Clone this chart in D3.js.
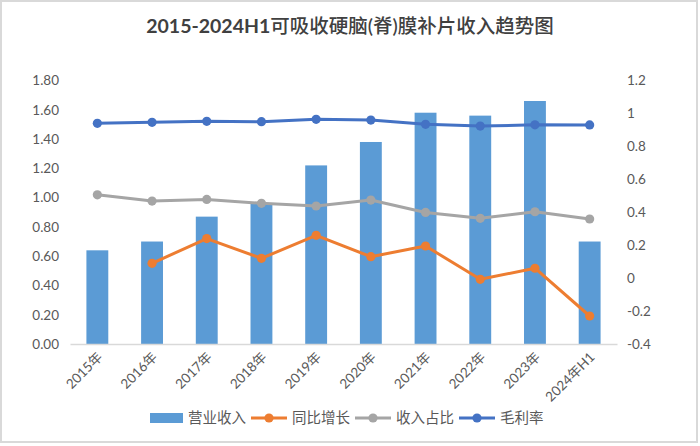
<!DOCTYPE html>
<html><head><meta charset="utf-8">
<script src="https://cdn.jsdelivr.net/npm/d3@7"></script>
<style>
html,body{margin:0;padding:0;background:#fff;}
svg{display:block;}
text{font-family:Lato,"Noto Sans CJK SC",sans-serif;}
</style></head>
<body>
<svg id="chart" width="700" height="446"></svg>
<script>
const titleLatin = "2015-2024H1";
const titleCJK = "可吸收硬脑(脊)膜补片收入趋势图";
const categories = ["2015年","2016年","2017年","2018年","2019年","2020年","2021年","2022年","2023年","2024年H1"];
const revenue = [0.64,0.70,0.87,0.96,1.22,1.38,1.58,1.56,1.66,0.70];
const growth = [null,0.09,0.24,0.12,0.26,0.13,0.195,-0.007,0.06,-0.23];
const share = [0.506,0.468,0.478,0.454,0.438,0.474,0.399,0.363,0.403,0.359];
const margin = [0.940,0.946,0.952,0.950,0.964,0.960,0.934,0.923,0.931,0.930];
const leftTicks = [0,0.2,0.4,0.6,0.8,1.0,1.2,1.4,1.6,1.8];
const rightTicks = [-0.4,-0.2,0,0.2,0.4,0.6,0.8,1.0,1.2];
const seriesNames = ["营业收入","同比增长","收入占比","毛利率"];
const colors = {bar:"#5B9BD5", growth:"#ED7D31", share:"#A5A5A5", margin:"#4472C4"};

const svg = d3.select("#chart");
const W = 700, H = 446;
const plot = {left:70, right:617, top:80.5, bottom:344};

// frame
svg.append("rect").attr("x",1).attr("y",1).attr("width",W-4).attr("height",H-5)
  .attr("fill","#fff").attr("stroke","#d9d9d9").attr("stroke-width",2);

// title
const tt = svg.append("text").attr("x",350).attr("y",33).attr("text-anchor","middle")
  .attr("font-size",19.5).attr("fill","#404040");
tt.append("tspan").attr("font-weight","bold").text(titleLatin);
tt.append("tspan").attr("font-weight","500").text(titleCJK);

const x = d3.scaleBand().domain(categories).range([plot.left,plot.right]).paddingInner(0.6).paddingOuter(0.3);
const xc = d => x(d) + x.bandwidth()/2;
const yL = d3.scaleLinear().domain([0,1.8]).range([plot.bottom,plot.top]);
const yR = d3.scaleLinear().domain([-0.4,1.2]).range([plot.bottom,plot.top]);

// left axis
const axL = svg.append("g").attr("transform",`translate(${plot.left},0)`)
  .call(d3.axisLeft(yL).tickValues(leftTicks).tickFormat(d3.format(".2f")).tickSize(0).tickPadding(11));
axL.select(".domain").remove();
axL.selectAll("text").attr("font-size",13.5).attr("fill","#595959").attr("font-family",'Lato,"Noto Sans CJK SC",sans-serif');

// right axis
const axR = svg.append("g").attr("transform",`translate(${plot.right},0)`)
  .call(d3.axisRight(yR).tickValues(rightTicks).tickFormat(d => String(+d.toFixed(1))).tickSize(0).tickPadding(10));
axR.select(".domain").remove();
axR.selectAll("text").attr("font-size",13.5).attr("fill","#595959").attr("font-family",'Lato,"Noto Sans CJK SC",sans-serif');

// bars
svg.append("g").selectAll("rect").data(categories).join("rect")
  .attr("x",d=>x(d)).attr("width",x.bandwidth())
  .attr("y",(d,i)=>yL(revenue[i])).attr("height",(d,i)=>yL(0)-yL(revenue[i]))
  .attr("fill",colors.bar);

// x axis
const axX = svg.append("g").attr("transform",`translate(0,${plot.bottom})`)
  .call(d3.axisBottom(x).tickSize(0).tickPadding(0));
axX.select(".domain").attr("stroke","#d9d9d9").attr("stroke-width",1.3);
axX.selectAll("text").attr("font-size",13.5).attr("fill","#595959")
  .attr("font-family",'Lato,"Noto Sans CJK SC",sans-serif')
  .attr("text-anchor","end").attr("dy",0)
  .attr("transform","translate(6,14) rotate(-45)");

// lines
function drawLine(vals,color){
  const pts = categories.map((c,i)=>({c,v:vals[i]})).filter(p=>p.v!==null);
  const line = d3.line().x(p=>xc(p.c)).y(p=>yR(p.v));
  svg.append("path").datum(pts).attr("d",line).attr("fill","none")
    .attr("stroke",color).attr("stroke-width",3).attr("stroke-linejoin","round").attr("stroke-linecap","round");
  svg.append("g").selectAll("circle").data(pts).join("circle")
    .attr("cx",p=>xc(p.c)).attr("cy",p=>yR(p.v)).attr("r",4.6).attr("fill",color);
}
drawLine(share,colors.share);
drawLine(growth,colors.growth);
drawLine(margin,colors.margin);

// legend
const lg = svg.append("g");
const legendItems = [
  {name:seriesNames[0], type:"bar", color:colors.bar},
  {name:seriesNames[1], type:"line", color:colors.growth},
  {name:seriesNames[2], type:"line", color:colors.share},
  {name:seriesNames[3], type:"line", color:colors.margin}
];
let cx = 150; const ly = 418;
legendItems.forEach(it=>{
  if(it.type==="bar"){
    lg.append("rect").attr("x",cx).attr("y",ly-5).attr("width",33).attr("height",10).attr("fill",it.color);
    cx += 38;
  } else {
    lg.append("line").attr("x1",cx).attr("x2",cx+36).attr("y1",ly).attr("y2",ly)
      .attr("stroke",it.color).attr("stroke-width",3);
    lg.append("circle").attr("cx",cx+18).attr("cy",ly).attr("r",4.6).attr("fill",it.color);
    cx += 41;
  }
  const t = lg.append("text").attr("x",cx).attr("y",ly).attr("dy","0.35em")
    .attr("font-size",14.5).attr("fill","#595959").text(it.name);
  cx += t.node().getComputedTextLength() + 5;
});
</script>
</body></html>
